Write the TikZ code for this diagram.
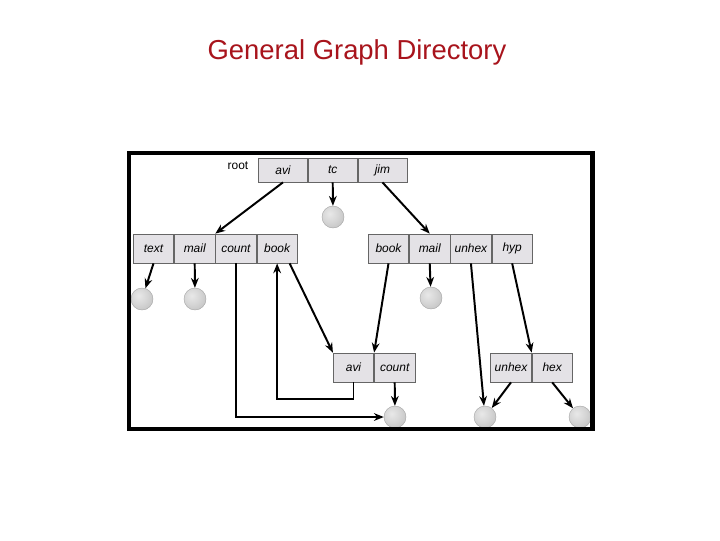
\documentclass[tikz,border=0pt]{standalone}
\usepackage{fontspec}
\setmainfont{Liberation Sans}
\usepackage{xcolor}
\usepackage{tikz}
\usetikzlibrary{arrows.meta,positioning,calc}

\definecolor{titlered}{HTML}{A8141C}
\definecolor{cellgray}{HTML}{E4E2E6}
\pgfdeclareradialshading{softball}{\pgfpoint{-8bp}{8bp}}{%
  color(0bp)=(gray!18); color(18bp)=(gray!32); color(38bp)=(gray!50);
  color(50bp)=(gray!65); color(100bp)=(gray!65)}

\tikzset{
  cell/.style={draw=gray!80!black,line width=0.5pt,fill=cellgray,
    minimum height=0.725cm,minimum width=1.0125cm,inner sep=0pt,
    font=\fontsize{8.5}{10}\selectfont\itshape},
  topcell/.style={cell,minimum height=0.6cm,minimum width=1.225cm},
  file/.style={circle,minimum size=0.55cm,inner sep=0pt,draw=gray!70,
    line width=0.3pt,shading=softball},
  link/.style={line width=1.4pt,-{Stealth[length=7pt,width=5.5pt]}}
}

\begin{document}
\begin{tikzpicture}[x=0.025cm,y=-0.025cm]
  \useasboundingbox (0,0) rectangle (720,540);
  \node[titlered,font=\fontsize{19.5}{24}\selectfont] (title) at (357,52) {General Graph Directory};

  % root directory
  \node[topcell] (avi) at (283,170) {avi};
  \node[topcell,right=0pt of avi] (tc) {tc};
  \node[topcell,right=0pt of tc] (jim) {jim};
  \node[font=\fontsize{8.5}{10}\selectfont] (root) at (238,166) {root};

  % second level
  \node[cell] (text) at (153.5,248.5) {text};
  \node[cell,right=0pt of text] (mail) {mail};
  \node[cell,right=0pt of mail] (count) {count};
  \node[cell,right=0pt of count] (book) {book};
  \node[cell] (jbook) at (388.5,248.5) {book};
  \node[cell,right=0pt of jbook] (jmail) {mail};
  \node[cell,right=0pt of jmail] (junhex) {unhex};
  \node[cell,right=0pt of junhex] (hyp) {hyp};

  % third level
  \node[cell] (bavi) at (353.5,367.5) {avi};
  \node[cell,right=0pt of bavi] (bcount) {count};
  \node[cell] (hunhex) at (511,367.5) {unhex};
  \node[cell,right=0pt of hunhex] (hex) {hex};

  % files
  \node[file] (ftc) at (333,217) {};
  \node[file] (ftext) at (142,299) {};
  \node[file] (fmail) at (195,299) {};
  \node[file] (fjmail) at (431,298) {};
  \node[file] (fcount) at (395,417) {};
  \node[file] (funhex) at (485,417) {};
  \node[file] (fhex) at (580,417) {};

  % links
  \draw[link] (avi.south) -- (mail.north east);
  \draw[link] (tc.south) -- (ftc);
  \draw[link] (jim.south) -- (jmail.north);
  \draw[link] (text.south) -- (ftext);
  \draw[link] (mail.south) -- (fmail);
  \draw[link] (count.south) |- (fcount);
  \draw[link] (book.310) -- (bavi.north west);
  \draw[link] (bavi.south) -- ++(0,17) -| (book.south);
  \draw[link] (jbook.south) -- (bavi.north east);
  \draw[link] (jmail.south) -- (fjmail);
  \draw[link] (junhex.south) -- (funhex);
  \draw[link] (hyp.south) -- (hunhex.north east);
  \draw[link] (bcount.south) -- (fcount);
  \draw[link] (hunhex.south) -- (funhex);
  \draw[link] (hex.south) -- (fhex);

  % frame
  \draw[line width=3.3pt] (129,153) rectangle (592.5,429);
\end{tikzpicture}
\end{document}
